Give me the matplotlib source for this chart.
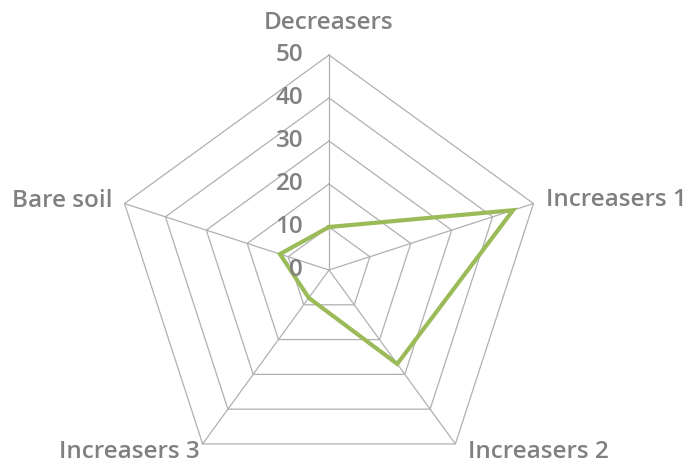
import numpy as np
import matplotlib
matplotlib.use("Agg")
import matplotlib.pyplot as plt

categories = ["Decreasers", "Increasers 1", "Increasers 2", "Increasers 3", "Bare soil"]
values = [10, 45, 27, 8, 12]
ticks = [0, 10, 20, 30, 40, 50]
rmax = 50

W, H = 691, 465
fig = plt.figure(figsize=(W / 100, H / 100), dpi=100)
ax = fig.add_axes([0, 0, 1, 1])
ppu = 4.3
cx, cy = 329, 270
ax.set_xlim(-cx / ppu, (W - cx) / ppu)
ax.set_ylim(-(H - cy) / ppu, cy / ppu)
ax.axis("off")

n = len(categories)
ang = np.pi / 2 - 2 * np.pi * np.arange(n) / n
ux, uy = np.cos(ang), np.sin(ang)

grid_c = "#b0b0b0"
for t in ticks[1:]:
    xs = np.append(ux * t, ux[0] * t)
    ys = np.append(uy * t, uy[0] * t)
    ax.plot(xs, ys, color=grid_c, lw=0.9, zorder=1)
for i in range(n):
    ax.plot([0, ux[i] * rmax], [0, uy[i] * rmax], color=grid_c, lw=0.9, zorder=1)

v = np.array(values, dtype=float)
ax.plot(np.append(ux * v, ux[0] * v[0]), np.append(uy * v, uy[0] * v[0]),
        color="#9BBB59", lw=3.0, zorder=3, solid_joinstyle="miter")

tc = "#808080"
fp = dict(family="Open Sans", weight="semibold", color=tc, fontsize=17.5)
for t in ticks:
    ax.text(-6.0, t, str(t), ha="right", va="center", **fp)

ax.text(0, rmax + 7.4, categories[0], ha="center", va="center", **fp)
ax.text(ux[1] * rmax + 2.9, uy[1] * rmax + 0.8, categories[1], ha="left", va="center", **fp)
ax.text(ux[2] * rmax + 2.9, uy[2] * rmax - 1.9, categories[2], ha="left", va="center", **fp)
ax.text(ux[3] * rmax - 0.6, uy[3] * rmax - 1.9, categories[3], ha="right", va="center", **fp)
ax.text(ux[4] * rmax - 2.9, uy[4] * rmax + 0.6, categories[4], ha="right", va="center", **fp)

fig.savefig("out.png", dpi=100)
